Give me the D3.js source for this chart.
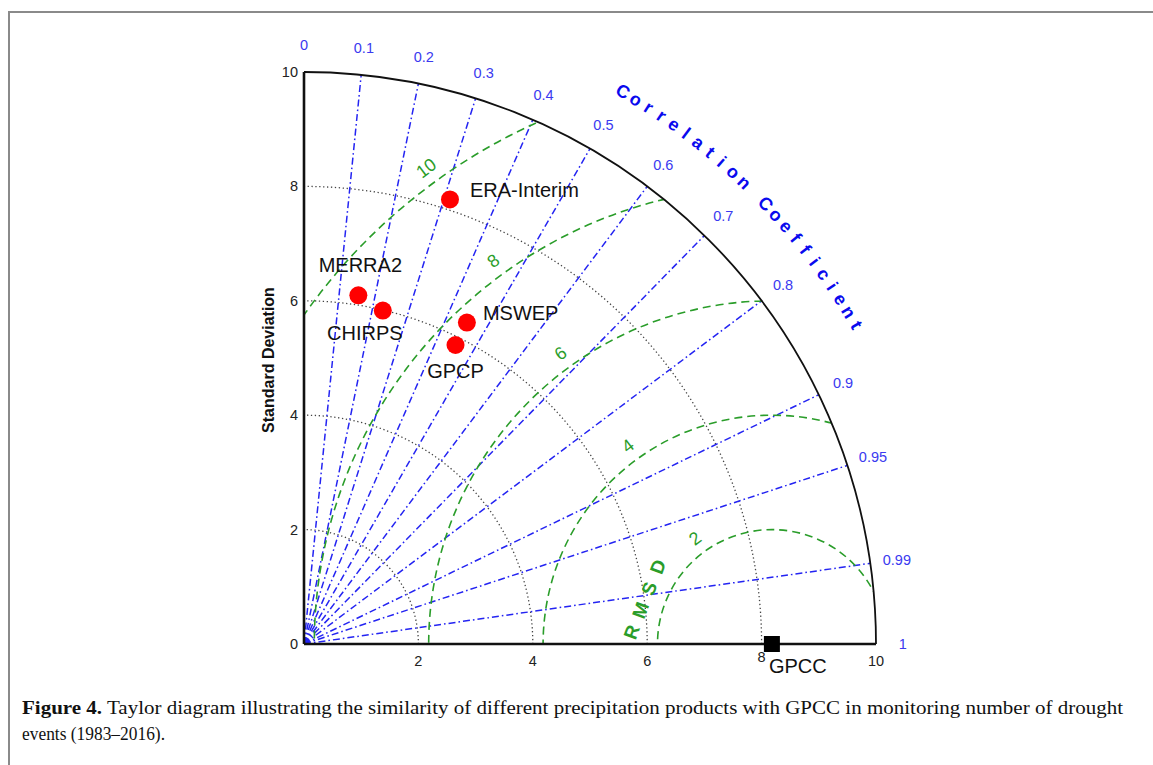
<!DOCTYPE html>
<html><head><meta charset="utf-8">
<script src="https://cdn.jsdelivr.net/npm/d3@7"></script>
<style>
html,body{margin:0;padding:0;background:#fff;}
svg{display:block;}
</style></head>
<body>
<svg id="chart" width="1153" height="765"></svg>
<script>
// ---------------- data ----------------
const products = ["ERA-Interim", "MERRA2", "CHIRPS", "MSWEP", "GPCP"];
const stdDev = [8.18, 6.17, 5.99, 6.30, 5.86];
const correlation = [0.312, 0.154, 0.230, 0.452, 0.452];
const refName = "GPCC";
const refStd = 8.18;
const stdTicks = [0, 2, 4, 6, 8, 10];
const stdArcs = [2, 4, 6, 8];
const corrTicks = [0, 0.1, 0.2, 0.3, 0.4, 0.5, 0.6, 0.7, 0.8, 0.9, 0.95, 0.99, 1];
const rmsdLevels = [2, 4, 6, 8, 10];
const corrTitle = "Correlation Coefficient";
const rmsdTitle = "RMSD";
const yTitle = "Standard Deviation";
const captionBold = "Figure 4.";
const captionLine1 = " Taylor diagram illustrating the similarity of different precipitation products with GPCC in monitoring number of drought";
const captionLine2 = "events (1983\u20132016).";

// ---------------- layout ----------------
const svg = d3.select("#chart");
const ox = 304, oy = 644, R = 572, maxStd = 10;
const x = d3.scaleLinear().domain([0, maxStd]).range([ox, ox + R]);
const y = d3.scaleLinear().domain([0, maxStd]).range([oy, oy - R]);
const px = (r, th) => x(r * Math.cos(th));
const py = (r, th) => y(r * Math.sin(th));

const blue = "#2424f2", blueLab = "#3a3af0", green = "#2a9d2a";
const tickFont = "Arial, 'Liberation Sans', sans-serif";

// frame
svg.append("rect").attr("x", 9).attr("y", 12).attr("width", 1160).attr("height", 780)
  .attr("fill", "none").attr("stroke", "#8a8a8a").attr("stroke-width", 2);

// clip: quarter disk
svg.append("clipPath").attr("id", "quarter").append("path")
  .attr("d", `M${x(0)},${y(0)} L${x(maxStd)},${y(0)} A${R},${R} 0 0 0 ${x(0)},${y(maxStd)} Z`);

const g = svg.append("g");

// std dotted arcs
stdArcs.forEach(s => {
  g.append("path")
    .attr("d", `M${x(s)},${y(0)} A${x(s)-x(0)},${x(s)-x(0)} 0 0 0 ${x(0)},${y(s)}`)
    .attr("fill", "none").attr("stroke", "#444").attr("stroke-width", 1.3)
    .attr("stroke-dasharray", "1.3,2.6");
});

// correlation rays
corrTicks.filter(c => c > 0 && c < 1).forEach(c => {
  const th = Math.acos(c);
  g.append("line")
    .attr("x1", x(0)).attr("y1", y(0))
    .attr("x2", px(maxStd, th)).attr("y2", py(maxStd, th))
    .attr("stroke", blue).attr("stroke-width", 1.5)
    .attr("stroke-dasharray", "7,3,1.6,3");
});

// RMSD circles
const rg = g.append("g").attr("clip-path", "url(#quarter)");
rmsdLevels.forEach(r => {
  rg.append("circle").attr("cx", x(refStd)).attr("cy", y(0)).attr("r", x(r) - x(0))
    .attr("fill", "none").attr("stroke", green).attr("stroke-width", 1.6)
    .attr("stroke-dasharray", "8,5");
});

// RMSD labels
const rmsdAng = 126 * Math.PI / 180;
rmsdLevels.forEach(r => {
  const lx = x(refStd + (r + 0.28) * Math.cos(rmsdAng));
  const ly = y((r + 0.28) * Math.sin(rmsdAng));
  g.append("text").attr("x", lx).attr("y", ly)
    .attr("transform", `rotate(-37,${lx},${ly})`)
    .attr("text-anchor", "middle").attr("dominant-baseline", "central")
    .attr("font-family", tickFont).attr("font-size", 18)
    .attr("fill", green).text(r);
});

// RMSD title letters along a line
const rmsdStart = [5.73, 0.21], rmsdEnd = [6.19, 1.35];
rmsdTitle.split("").forEach((ch, i) => {
  const t = i / (rmsdTitle.length - 1);
  const lx = x(rmsdStart[0] + t * (rmsdEnd[0] - rmsdStart[0]));
  const ly = y(rmsdStart[1] + t * (rmsdEnd[1] - rmsdStart[1]));
  g.append("text").attr("x", lx).attr("y", ly)
    .attr("transform", `rotate(-70,${lx},${ly})`)
    .attr("text-anchor", "middle").attr("dominant-baseline", "central")
    .attr("font-family", tickFont).attr("font-weight", "bold")
    .attr("font-size", 19).attr("fill", green).text(ch);
});

// outer arc
g.append("path")
  .attr("d", `M${x(maxStd)},${y(0)} A${R},${R} 0 0 0 ${x(0)},${y(maxStd)}`)
  .attr("fill", "none").attr("stroke", "#111").attr("stroke-width", 1.8);

// axes
g.append("line").attr("x1", x(0)).attr("y1", y(0)).attr("x2", x(maxStd)).attr("y2", y(0))
  .attr("stroke", "#111").attr("stroke-width", 2.6);
g.append("line").attr("x1", x(0)).attr("y1", y(0)).attr("x2", x(0)).attr("y2", y(maxStd))
  .attr("stroke", "#111").attr("stroke-width", 2.6);

// std tick labels
stdTicks.forEach(s => {
  g.append("text").attr("x", x(0) - 6).attr("y", y(s)).attr("text-anchor", "end")
    .attr("dominant-baseline", "central").attr("font-family", tickFont).attr("font-size", 14.5)
    .attr("fill", "#222").text(s);
  if (s > 0) {
    g.append("text").attr("x", x(s)).attr("y", y(0) + (s === 8 ? 13 : 17)).attr("text-anchor", "middle")
      .attr("dominant-baseline", "central").attr("font-family", tickFont).attr("font-size", 14.5)
      .attr("fill", "#222").text(s);
  }
});

// correlation tick labels
corrTicks.forEach(c => {
  const th = Math.acos(c);
  g.append("text").attr("x", px(10.47, th)).attr("y", py(10.47, th))
    .attr("text-anchor", "middle").attr("dominant-baseline", "central")
    .attr("font-family", tickFont).attr("font-size", 14.5).attr("fill", blueLab).text(c);
});

// Correlation title letters along arc
const a0 = 60, a1 = 30, rTitle = 11.15;
corrTitle.split("").forEach((ch, i) => {
  const deg = a0 + (a1 - a0) * i / (corrTitle.length - 1);
  const th = deg * Math.PI / 180;
  const lx = px(rTitle, th), ly = py(rTitle, th);
  g.append("text").attr("x", lx).attr("y", ly)
    .attr("transform", `rotate(${90 - deg},${lx},${ly})`)
    .attr("text-anchor", "middle").attr("dominant-baseline", "central")
    .attr("font-family", tickFont).attr("font-weight", "bold").attr("font-size", 18)
    .attr("fill", "#0a0aee").text(ch);
});

// y title
g.append("text").attr("x", 268).attr("y", 360)
  .attr("transform", "rotate(-90,268,360)")
  .attr("text-anchor", "middle").attr("dominant-baseline", "central")
  .attr("font-family", tickFont).attr("font-weight", "bold").attr("font-size", 16)
  .attr("fill", "#111").text(yTitle);

// reference point
g.append("rect").attr("x", x(refStd) - 8).attr("y", y(0) - 8).attr("width", 16).attr("height", 16)
  .attr("fill", "#000");
g.append("text").attr("x", x(refStd) - 3).attr("y", y(0) + 22)
  .attr("font-family", tickFont).attr("font-size", 20).attr("fill", "#111")
  .attr("dominant-baseline", "central").text(refName);

// product points
const labelPos = {
  "ERA-Interim": {dx: 20, dy: -9, anchor: "start"},
  "MERRA2": {dx: 2, dy: -30, anchor: "middle"},
  "CHIRPS": {dx: -18, dy: 22, anchor: "middle"},
  "MSWEP": {dx: 16, dy: -10, anchor: "start"},
  "GPCP": {dx: 0, dy: 26, anchor: "middle"}
};
products.forEach((name, i) => {
  const th = Math.acos(correlation[i]);
  const cx = px(stdDev[i], th), cy = py(stdDev[i], th);
  g.append("circle").attr("cx", cx).attr("cy", cy).attr("r", 9).attr("fill", "#ff0000");
  const lp = labelPos[name];
  g.append("text").attr("x", cx + lp.dx).attr("y", cy + lp.dy)
    .attr("text-anchor", lp.anchor).attr("dominant-baseline", "central")
    .attr("font-family", tickFont).attr("font-size", 20).attr("fill", "#111").text(name);
});

// caption
const capFont = "'Liberation Serif', 'DejaVu Serif', serif";
const cap = svg.append("text").attr("x", 22).attr("y", 714)
  .attr("font-family", capFont).attr("font-size", 19.5)
  .attr("fill", "#111").attr("textLength", 1101).attr("lengthAdjust", "spacingAndGlyphs");
cap.append("tspan").attr("font-weight", "bold").text(captionBold);
cap.append("tspan").text(captionLine1);
svg.append("text").attr("x", 22).attr("y", 740)
  .attr("font-family", capFont).attr("font-size", 19.5)
  .attr("fill", "#111").attr("textLength", 143).attr("lengthAdjust", "spacingAndGlyphs")
  .text(captionLine2);
</script>
</body></html>
